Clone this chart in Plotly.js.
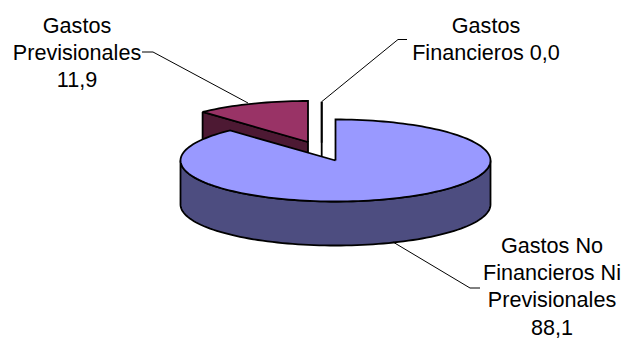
<!DOCTYPE html>
<html>
<head>
<meta charset="utf-8">
<script src="https://cdn.plot.ly/plotly-3.0.1.min.js"></script>
<style>html,body{margin:0;padding:0;background:#fff}#chart{width:624px;height:338px}</style>
</head>
<body>
<div id="chart"></div>
<script>
// Budget shares, in percent, clockwise from twelve o'clock
const categories = ['Gastos No Financieros Ni Previsionales', 'Gastos Previsionales', 'Gastos Financieros'];
const shares = [88.1, 11.9, 0.0];
const topColors = ['#9999FF', '#993366', '#FFFFE0'];
const wallColors = ['#4D4D80', '#4D1933', '#808070'];
const labelLines = [['Gastos No', 'Financieros Ni', 'Previsionales'], ['Gastos', 'Previsionales'], ['Gastos', 'Financieros']];
const valueOnOwnLine = [true, true, false];

// Projection of the tilted disc, in axis units (one unit per pixel)
const RX = 155, RY = 41, DEPTH = 44;
const sliceCenters = [[335.5, 160.5], [308, 142], [321.7, 142.7]];
const labelX = [552, 77, 486];
const labelY = [247.5, 27.5, 27.5];
const LINE_STEP = 27.3;
const leaders = [
  [[393, 242], [470, 288], [480, 288]],
  [[142, 52], [153, 52], [248, 103]],
  [[407, 39.5], [398, 39.5], [321.7, 101.7]]
];

const fmt = v => v.toFixed(1).replace('.', ',');
const pointAt = (c, deg, drop) => {
  const a = deg * Math.PI / 180;
  return [c[0] + RX * Math.sin(a), c[1] - RY * Math.cos(a) + (drop || 0)];
};
const arc = (c, from, to, drop) => {
  const pts = [];
  const n = Math.max(1, Math.ceil(Math.abs(to - from) / 2));
  for (let i = 0; i <= n; i++) pts.push(pointAt(c, from + (to - from) * i / n, drop));
  return pts;
};
const polygon = (pts, fill, width) => ({
  type: 'scatter', mode: 'lines', fill: 'toself', fillcolor: fill,
  x: pts.map(p => p[0]), y: pts.map(p => p[1]),
  line: {color: '#000', width: width || 1.8, simplify: false},
  hoverinfo: 'skip', showlegend: false
});

// Angular extent of each slice
let running = 0;
const spans = shares.map(v => {
  const s = [running * 3.6, (running + v) * 3.6];
  running += v;
  return s;
});

const traces = [];
// Back to front: the exploded back slices first, the large slice over them
[2, 1, 0].forEach(i => {
  const c = sliceCenters[i];
  const [a0, a1] = spans[i];
  if (i !== 0) {
    // cut face seen along the leading radius
    const p = pointAt(c, a0), pd = pointAt(c, a0, DEPTH);
    traces.push(polygon([p, c, [c[0], c[1] + DEPTH], pd, p], wallColors[i]));
  }
  // outer wall on the front half of the disc
  const w0 = Math.max(a0, 90), w1 = Math.min(a1, 270);
  if (w1 > w0) {
    const wall = arc(c, w0, w1, 0).concat(arc(c, w1, w0, DEPTH));
    wall.push(wall[0]);
    traces.push(polygon(wall, wallColors[i]));
  }
  // top face
  const top = [c].concat(arc(c, a0, a1, 0));
  top.push(c);
  traces.push(polygon(top, topColors[i]));
});

// Leader lines
leaders.forEach(l => traces.push({
  type: 'scatter', mode: 'lines',
  x: l.map(p => p[0]), y: l.map(p => p[1]),
  line: {color: '#000', width: 1},
  hoverinfo: 'skip', showlegend: false
}));

// Labels, one text point per line so the line step stays fixed
const tx = [], ty = [], tt = [];
categories.forEach((name, i) => {
  const lines = labelLines[i].slice();
  if (valueOnOwnLine[i]) lines.push(fmt(shares[i]));
  else lines[lines.length - 1] += ' ' + fmt(shares[i]);
  lines.forEach((t, k) => {
    tx.push(labelX[i]);
    ty.push(labelY[i] + k * LINE_STEP);
    tt.push(t);
  });
});
traces.push({
  type: 'scatter', mode: 'text', x: tx, y: ty, text: tt,
  textposition: 'middle center',
  textfont: {family: 'Liberation Sans, Arial, sans-serif', size: 21.6, color: '#000'},
  hoverinfo: 'skip', showlegend: false, cliponaxis: false
});

const hidden = {visible: false, fixedrange: true};
Plotly.newPlot('chart', traces, {
  width: 624, height: 338,
  margin: {l: 0, r: 0, t: 0, b: 0},
  paper_bgcolor: '#fff', plot_bgcolor: '#fff',
  xaxis: Object.assign({range: [0, 624]}, hidden),
  yaxis: Object.assign({range: [338, 0]}, hidden),
  showlegend: false
}, {displayModeBar: false, staticPlot: true});
</script>
</body>
</html>
